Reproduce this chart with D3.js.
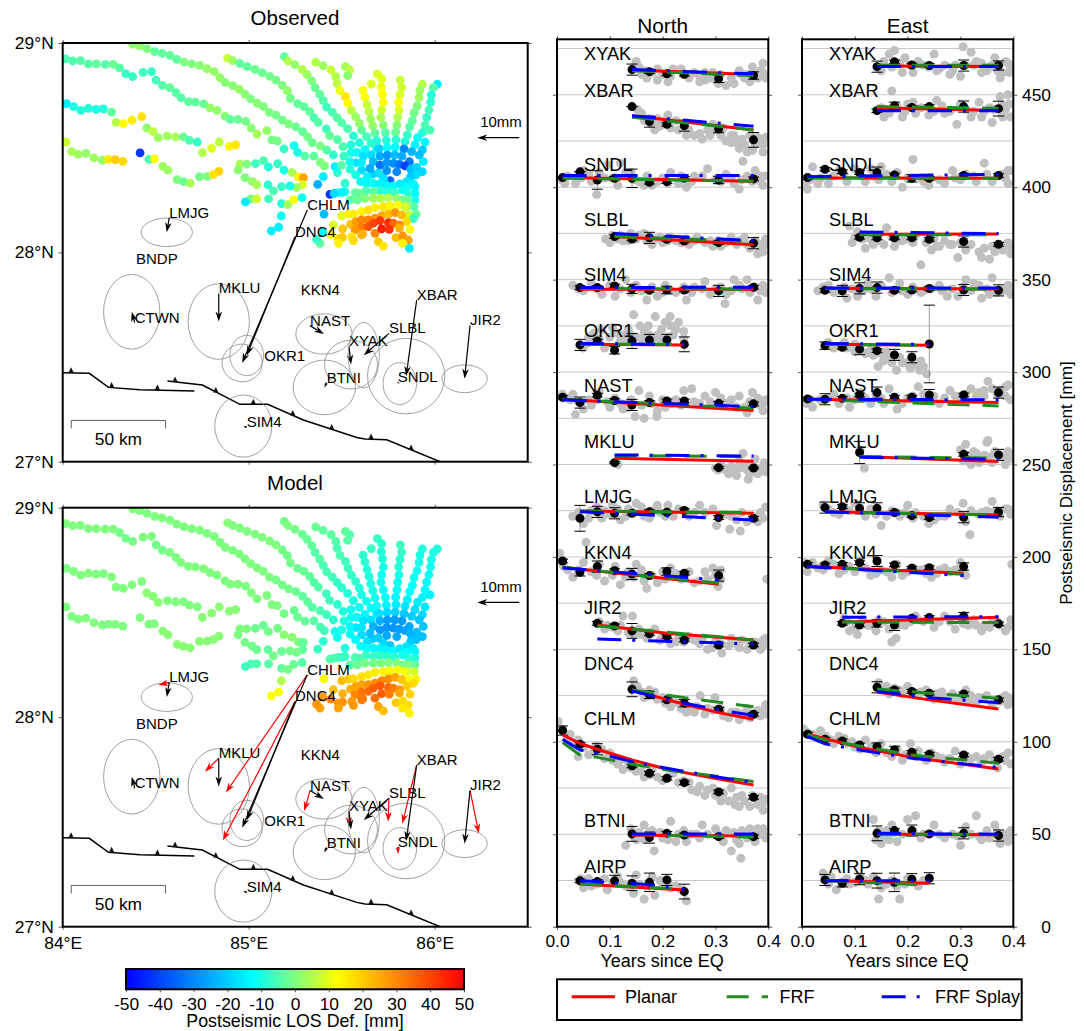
<!DOCTYPE html>
<html>
<head>
<meta charset="utf-8">
<script src="https://cdn.jsdelivr.net/npm/d3@7/dist/d3.min.js"></script>
<style>
  body { margin: 0; background: #fff; }
  text { font-family: "Liberation Sans", Arial, sans-serif; fill: #000; }
</style>
</head>
<body>
<div id="chart"></div>
<script>
// InSAR points: lon, lat, observed LOS, model LOS (mm)
var insar = [
  [84.016,28.924,-5,0],[84.054,28.914,-5,0],[84.095,28.916,-4,0],[84.138,28.900,-4,0],[84.181,28.900,-3,0],[84.229,28.898,-4,0],[84.272,28.898,-2,0],[84.306,28.881,-4,-1],[84.339,28.854,-7,-1],[84.376,28.839,-7,-1],
  [84.376,28.994,2,0],[84.414,28.986,2,0],[84.453,28.973,0,0],[84.495,28.959,-3,0],[84.534,28.951,-3,0],[84.577,28.941,-3,0],[84.613,28.922,-3,0],[84.652,28.909,0,0],[84.694,28.900,0,0],[84.737,28.893,1,0],[84.776,28.877,2,0],[84.815,28.863,2,0],[84.846,28.834,2,0],[84.874,28.811,1,0],[84.914,28.796,1,0],[84.950,28.779,2,0],[84.980,28.756,1,0],[85.011,28.733,0,0],[85.045,28.713,1,0],[85.079,28.696,0,0],[85.111,28.669,0,0],[85.147,28.655,-1,-1],[85.181,28.632,-1,-1],[85.215,28.613,0,-1],[85.254,28.599,-2,-2],[85.290,28.577,-3,-3],[85.317,28.551,-1,-3],[85.342,28.524,-2,-4],[85.385,28.508,0,-5],
  [84.432,28.860,-6,0],[84.478,28.863,-7,0],[84.502,28.823,-6,-1],[84.536,28.798,-4,-1],[84.575,28.787,-3,0],[84.609,28.763,-4,0],[84.636,28.739,-4,0],[84.676,28.720,-3,0],[84.713,28.718,-3,0],[84.758,28.709,-2,0],[84.792,28.690,2,0],[84.830,28.678,2,0],[84.873,28.651,1,0],[84.901,28.635,-3,0],[84.943,28.635,-2,0],[84.984,28.626,-1,0],[85.014,28.594,1,0],[85.045,28.565,4,0],[85.098,28.581,2,0],[85.125,28.537,-1,0],[85.154,28.532,-1,0],[85.190,28.494,-7,-1],[85.244,28.510,-11,-2],[85.263,28.478,-10,-2],[85.303,28.459,-4,-3],[85.351,28.460,-3,-4],[85.385,28.430,0,-5],[85.407,28.413,0,-6],
  [84.887,28.928,7,1],[84.914,28.916,3,0],[84.952,28.903,-3,0],[84.991,28.887,-3,0],[85.034,28.874,-2,0],[85.072,28.858,-2,0],[85.113,28.841,-1,0],[85.147,28.823,-1,0],[85.181,28.798,0,-1],[85.208,28.771,2,-1],[85.224,28.736,-1,-1],[85.263,28.710,-3,-2],[85.297,28.696,-3,-2],[85.328,28.672,-3,-3],[85.351,28.643,-5,-4],[85.374,28.621,-4,-4],[85.417,28.590,-6,-6],[85.435,28.558,-3,-6],[85.477,28.538,-4,-8],[85.507,28.505,-5,-9],[85.550,28.476,-10,-11],
  [85.192,28.935,-3,-1],[85.211,28.914,5,0],[85.249,28.897,2,-1],[85.288,28.874,5,-2],[85.314,28.849,3,-2],[85.339,28.819,0,-3],[85.357,28.787,-2,-4],[85.382,28.755,-3,-4],[85.401,28.725,-4,-5],[85.419,28.694,-6,-5],[85.450,28.669,-5,-6],[85.475,28.643,-4,-7],[85.500,28.618,-4,-8],[85.532,28.591,-5,-9],[85.563,28.556,-8,-10],[85.595,28.524,-9,-11],[85.625,28.491,-12,-13],[85.658,28.465,-18,-17],
  [85.360,28.908,5,-2],[85.400,28.892,3,-3],[85.443,28.871,7,-3],[85.468,28.839,5,-4],[85.475,28.807,6,-5],[85.491,28.772,11,-5],[85.520,28.744,16,-6],[85.534,28.712,13,-6],[85.552,28.678,6,-7],[85.575,28.648,3,-8],[85.595,28.616,2,-9],[85.607,28.584,-3,-10],[85.634,28.553,-6,-11],[85.658,28.521,-8,-12],[85.688,28.492,-14,-15],
  [85.520,28.887,4,-3],[85.543,28.871,6,-4],[85.532,28.844,1,-4],
  [85.659,28.804,9,-7],[85.615,28.774,12,-8],[85.625,28.741,12,-8],[85.636,28.705,7,-9],[85.647,28.672,6,-9],[85.656,28.637,3,-10],[85.667,28.604,2,-10],[85.679,28.569,-3,-11],[85.688,28.532,-9,-12],[85.701,28.495,-19,-17],[85.706,28.460,-25,-24],
  [85.692,28.852,9,-7],[85.715,28.828,10,-8],[85.713,28.790,11,-9],[85.719,28.756,13,-9],[85.724,28.717,13,-10],[85.715,28.680,8,-11],[85.711,28.645,4,-11],[85.724,28.608,1,-12],[85.735,28.572,-4,-12],[85.740,28.535,-9,-14],[85.744,28.500,-12,-18],[85.745,28.464,-28,-27],
  [85.815,28.823,7,-6],[85.822,28.788,8,-7],[85.813,28.753,9,-8],[85.806,28.717,12,-9],[85.808,28.680,9,-10],[85.801,28.645,5,-11],[85.797,28.608,1,-12],[85.790,28.573,-2,-13],[85.792,28.537,-8,-15],[85.788,28.502,-13,-19],[85.785,28.465,-22,-27],
  [85.934,28.803,5,-9],[85.921,28.774,3,-10],[85.916,28.739,3,-10],[85.905,28.699,0,-11],[85.889,28.666,-1,-11],[85.880,28.629,-3,-12],[85.865,28.599,-4,-12],[85.853,28.561,-7,-14],[85.840,28.529,-9,-16],[85.835,28.494,-30,-20],[85.824,28.460,-25,-27],
  [86.014,28.803,-15,-9],[85.993,28.787,-4,-10],[85.982,28.752,-9,-10],[85.978,28.718,-8,-11],[85.969,28.680,-6,-12],[85.957,28.645,-7,-13],[85.948,28.608,-5,-13],[85.975,28.584,-5,-14],[85.934,28.572,-8,-14],[85.908,28.548,-12,-15],[85.948,28.526,-14,-16],[85.894,28.513,-14,-17],[85.934,28.489,-20,-18],[85.876,28.481,-23,-20],[85.917,28.465,-22,-21],[85.939,28.433,-15,-21],[85.864,28.433,-32,-25],
  [85.670,28.433,-22,-24],[85.706,28.417,-33,-27],[85.742,28.428,-28,-28],[85.778,28.425,-29,-28],[85.810,28.420,-33,-27],[85.840,28.413,-40,-26],[85.871,28.397,-22,-24],[85.903,28.406,-19,-22],[85.934,28.385,-18,-22],[85.900,28.370,-17,-22],[85.871,28.362,-20,-20],[85.849,28.338,-16,-17],[85.885,28.327,-14,-15],[85.894,28.314,-14,-14],[85.849,28.311,-12,-13],[85.894,28.282,-13,-9],[85.858,28.282,-9,-8],[85.894,28.250,-10,-3],[85.853,28.250,-2,0],[85.889,28.218,-4,8],[85.849,28.218,2,6],[85.900,28.182,-3,14],[85.860,28.179,8,13],[85.885,28.161,-7,18],
  [85.760,28.343,-35,-20],[85.724,28.354,-16,-18],[85.697,28.378,-17,-20],[85.665,28.374,-19,-20],[85.638,28.362,-14,-17],[85.607,28.393,-18,-18],[85.577,28.428,-16,-16],[85.545,28.397,-9,-13],[85.575,28.370,-10,-13],[85.602,28.338,-13,-12],[85.634,28.330,-13,-12],[85.670,28.330,-12,-13],[85.702,28.327,-14,-14],[85.738,28.322,-14,-14],[85.778,28.317,-12,-13],[85.813,28.327,-15,-15],[85.828,28.298,-11,-11],[85.787,28.285,-7,-8],[85.745,28.290,-9,-8],[85.706,28.295,-8,-8],[85.670,28.290,-3,-7],[85.631,28.295,-5,-7],[85.595,28.282,-2,-5],[85.572,28.285,-3,-5],[85.670,28.258,3,-1],[85.710,28.258,5,0],[85.751,28.261,5,0],[85.796,28.258,2,0],[85.824,28.250,-1,-1],[85.625,28.258,0,-1],[85.584,28.250,-2,-2],[85.545,28.250,-3,-3],[85.518,28.290,-9,-7],[85.483,28.285,-11,-7],[85.518,28.330,-8,-9],[85.477,28.381,-8,-11],[85.464,28.409,-14,-11],[85.500,28.417,-4,-10],[85.455,28.465,-8,-8],[85.401,28.362,-15,-8],[85.371,28.325,-24,-7],[85.437,28.277,-42,-4],[85.459,28.282,-18,-5],[85.505,28.287,-14,-7],[85.405,28.183,-22,12],
  [85.550,28.513,-9,-11],[85.581,28.478,-12,-13],[85.616,28.460,-17,-17],[85.512,28.460,-7,-10],[85.545,28.433,-11,-13],[85.607,28.428,-15,-16],[85.652,28.401,-25,-22],[85.742,28.390,-28,-25],[85.796,28.385,-30,-25],[85.419,28.489,-4,-6],
  [85.500,28.174,10,22],[85.536,28.182,14,20],[85.563,28.183,15,18],[85.607,28.194,14,17],[85.643,28.202,17,16],[85.679,28.214,15,15],[85.724,28.218,16,14],[85.760,28.222,14,13],[85.804,28.226,12,13],[85.840,28.218,8,12],[85.455,28.131,9,22],[85.505,28.112,21,24],[85.548,28.134,22,25],[85.577,28.147,27,26],[85.607,28.155,30,26],[85.643,28.155,31,28],[85.679,28.163,28,29],[85.715,28.175,25,30],[85.751,28.183,22,29],[85.787,28.190,28,26],[85.822,28.179,22,21],[85.849,28.147,18,20],[85.607,28.120,32,33],[85.643,28.123,38,34],[85.670,28.139,40,36],[85.706,28.151,42,37],[85.751,28.142,44,35],[85.778,28.139,35,32],[85.810,28.131,30,28],[85.572,28.107,28,30],[85.607,28.083,24,31],[85.679,28.091,30,34],[85.715,28.112,46,36],[85.756,28.110,43,32],[85.810,28.116,24,26],[85.867,28.110,13,19],[85.441,28.086,14,30],[85.482,28.067,18,28],[85.505,28.072,20,28],[85.554,28.075,16,27],[85.563,28.056,18,28],[85.613,28.088,24,32],[85.697,28.051,20,26],[85.792,28.070,22,20],[85.828,28.078,28,18],[85.858,28.059,26,17],[85.383,28.043,-3,26],[85.365,28.062,-7,28],[85.398,28.096,-13,27],[85.482,28.043,14,26],[85.724,28.030,16,22],[85.828,28.043,14,16],[85.864,28.019,-15,14],
  [84.020,28.710,-15,0],[84.059,28.696,-10,0],[84.097,28.678,-9,0],[84.138,28.688,-9,0],[84.179,28.683,-10,0],[84.219,28.685,-9,0],[84.263,28.670,-3,0],[84.287,28.621,5,0],[84.326,28.615,13,0],[84.373,28.632,15,0],[84.425,28.648,17,0],
  [84.452,28.594,2,1],[84.486,28.577,6,1],[84.513,28.548,3,1],[84.563,28.556,3,0],[84.607,28.551,4,0],[84.649,28.551,-2,0],[84.681,28.535,-5,0],[84.724,28.527,-7,0],[84.751,28.476,5,1],[84.801,28.497,9,1],[84.842,28.527,6,1],[84.896,28.506,14,1],[84.930,28.513,16,1],
  [84.018,28.527,7,0],[84.048,28.481,4,0],[84.084,28.468,3,0],[84.125,28.473,2,0],[84.168,28.451,3,0],[84.213,28.440,2,0],[84.247,28.444,16,0],[84.283,28.443,20,0],[84.324,28.435,18,0],[84.416,28.475,-42,0],[84.464,28.444,-5,0],[84.493,28.446,13,0],[84.539,28.411,3,1],[84.566,28.393,3,1],[84.615,28.347,0,1],[84.649,28.338,-2,1],[84.685,28.331,4,1],[84.735,28.362,-1,1],[84.776,28.363,0,1],[84.810,28.371,16,1],[84.840,28.387,19,1],
  [84.953,28.422,4,0],[84.989,28.421,0,0],[84.943,28.393,1,0],[85.036,28.424,-6,-2],[85.080,28.438,-5,-2],[85.106,28.408,-9,-1],[85.156,28.424,-7,-1],[85.190,28.393,-10,1],[85.233,28.382,4,1],[85.267,28.360,14,0],[85.294,28.357,26,-3],[85.290,28.323,9,-3],[85.258,28.309,3,-1],[85.222,28.317,-10,-1],[85.177,28.314,-7,-2],[85.104,28.322,-8,-3],[85.133,28.293,-5,-1],[84.980,28.357,0,-1],[85.019,28.339,2,-1],[85.043,28.323,4,-2],[85.011,28.255,0,-5],[85.043,28.255,8,-5],[84.982,28.241,-15,-6],[85.107,28.255,-6,-4],[85.177,28.233,-9,-3],[85.210,28.228,3,-1],[85.242,28.252,12,-2],[85.287,28.261,-11,-4],[85.175,28.174,-11,5],[85.122,28.102,-15,12],[85.161,28.120,-15,12]
];

// GPS stations on the maps
var mapNames = ["LMJG","BNDP","CTWN","MKLU","CHLM","DNC4","OKR1","KKN4","NAST","XYAK","BTNI","SLBL","XBAR","SNDL","JIR2","SIM4"];
var mapLon = [84.573,84.394,84.387,84.839,85.315,85.249,85.084,85.280,85.330,85.539,85.419,85.754,85.903,85.801,86.190,84.989];
var mapLat = [28.166,27.943,27.664,27.804,28.202,28.075,27.481,27.796,27.650,27.552,27.377,27.613,27.772,27.379,27.651,27.164];
var obsE = [-0.6,0,-0.7,0,-15.5,-11.5,0,0,3.3,0.5,-0.55,-6,-2.5,0.5,-1.3,-0.8];
var obsN = [-3.5,0,2.6,-6.7,-36.4,-28.3,0,0,-2,-4.4,-1.1,-5.2,-18.1,-0.3,-12.7,0.3];
var modE = [-2.6,0,-0.5,-3.3,-19.4,-17.2,0,0,-1.4,0,-0.4,-0.2,-3.4,0.15,2.1,-0.3];
var modN = [-0.6,0,-0.2,-3.2,-28,-33.1,0,0,-4.9,-3.8,-1,-5.6,-14,-1.6,-10.3,0.1];
var ellRx = [6.1,0,6.7,7.3,4.8,4,0,0,6.7,6.3,7.4,3.7,9.2,4,5.4,6.8];
var ellRy = [3.4,0,8.9,9,4.5,4.8,0,0,4.8,5.8,6.5,7.8,9,5,3.3,7.4];

// Thrust fault traces and teeth
var fault1 = [[84.000,27.425],[84.143,27.422],[84.246,27.355],[84.416,27.344],[84.708,27.338]];
var fault2 = [[84.563,27.385],[84.751,27.366],[84.953,27.274],[85.102,27.274],[85.294,27.199],[85.581,27.116],[85.625,27.108],[85.742,27.105],[86.029,27.000]];
var faultTeeth = [[84.045,27.425],[84.263,27.355],[84.509,27.342],[84.604,27.381],[84.823,27.330],[85.025,27.274],[85.237,27.221],[85.446,27.154],[85.658,27.108],[85.873,27.056]];
var scaleBarLon = [84.046,84.553];
var scaleBarLat = 27.197;

// Time series
var stations = ["XYAK","XBAR","SNDL","SLBL","SIM4","OKR1","NAST","MKLU","LMJG","KKN4","JIR2","DNC4","CHLM","BTNI","AIRP"];
var labelMm = [469,449,409,379,349,319,289,259,229,199,169,139,109,54,29];
var epochs = [0.0106,0.0435,0.0763,0.109,0.142,0.175,0.208,0.241,0.306,0.372];

// epoch index, mm, error
var northDots = [
  [[4,463.6,3],[5,462.5,1],[6,461.3,1],[7,461.1,1],[8,458.6,2],[9,460.4,2]],
  [[4,443.6,0],[5,435.5,3],[6,434,1],[7,433.3,3],[8,431.5,2],[9,425.6,4]],
  [[0,405.2,0],[1,408.3,0],[2,403.9,5],[3,404.8,1],[4,404.8,5],[5,402.7,1],[6,403,1],[7,404.8,1],[8,403.9,2],[9,404.5,1]],
  [[3,373.3,1],[4,372,1],[5,372.6,3],[6,371.8,1],[7,370.9,1],[8,370,1],[9,369.7,3]],
  [[1,345.7,1],[2,345.7,1],[3,346.6,1],[4,345,2.5],[5,344.2,1],[6,344.4,2],[7,344.4,1],[8,343.9,3],[9,345.9,1]],
  [[1,314.7,3],[2,316.8,1],[3,311.8,2],[4,316.8,4],[5,317.4,3],[6,317.4,3],[7,315,4]],
  [[0,286.4,1],[1,283.5,3],[2,287.5,1],[3,284.6,1],[4,282.2,3],[5,283.5,1],[6,284.4,1],[7,284.4,1],[8,283.1,1],[9,282.8,1]],
  [[3,251,0.5],[8,248.3,0.5],[9,248.1,0.5]],
  [[1,220.9,7],[2,224.4,3],[3,223.6,3],[4,223.6,1],[5,224.5,1],[6,224.2,1],[7,225.1,1],[8,221.3,1],[9,220.9,1]],
  [[0,197.8,1],[1,191.7,2],[2,194.8,3],[3,192.6,1],[4,190.8,3],[5,189.9,1],[6,192.1,2],[7,191.2,1],[8,189.9,3]],
  [[2,164.1,1],[3,162.7,1],[4,160,4],[5,158.4,1],[6,156.9,1],[7,155.1,1],[8,152.4,1],[9,152.4,1]],
  [[4,128.4,4],[5,125.4,2],[6,122.7,1],[7,120.9,2],[8,117.6,1],[9,114.9,1]],
  [[0,106.1,2.5],[1,98.7,1],[2,96,3],[4,87,1],[5,83,1],[6,80.3,1],[7,77.9,1],[8,72.9,1],[9,70,1]],
  [[4,50.2,4],[5,48.2,3],[6,50.5,1],[7,49.6,1],[8,48.7,1],[9,48.7,1]],
  [[1,24.8,1],[2,24.4,1],[3,24.8,3],[4,23.5,4],[5,24,5],[6,25.3,3],[7,19,4]]
];
var eastDots = [
  [[4,465.2,3],[5,467.8,1],[6,466.1,1],[7,465.8,1],[8,465.8,3],[9,465.8,2.5]],
  [[4,441.4,1],[5,444,2],[6,443.1,1],[7,443.6,1],[8,443.6,3],[9,442.5,4]],
  [[0,405.2,1],[1,409.7,1],[2,408.4,1],[3,407.9,1],[4,407.9,3],[5,406.6,1],[6,404.8,2],[7,404.8,1],[8,406.3,1],[9,406.3,1]],
  [[3,372.9,1],[4,372.6,1],[5,372.6,1],[6,372.6,1],[7,371.8,1],[8,370.6,3],[9,369.1,1]],
  [[1,344.2,1],[2,343.9,3],[3,345.3,3],[4,345.7,3],[5,344.2,1],[6,344.4,1],[7,345.2,1],[8,344.4,3],[9,344.2,3]],
  [[1,314.3,2],[2,313.4,1],[3,312.4,3],[4,311.6,1],[5,309.3,3],[6,308,3],[7,315.2,21]],
  [[0,285.5,1],[1,285.3,3],[2,285.8,1],[3,287.6,1],[4,288.9,3],[5,286.4,1],[6,286.4,1],[7,287.6,3],[8,287.6,1],[9,288.9,3]],
  [[3,256.5,6],[8,255.5,1],[9,255.2,3]],
  [[1,226.7,3],[2,227.2,1],[3,226.3,3],[4,226.3,3],[5,224,1],[6,222.4,1],[7,221.3,1],[8,221.5,3],[9,224.3,2.5]],
  [[0,196,1],[1,195.7,1],[2,196,1],[3,196.9,1],[4,197.8,3],[5,195.7,1],[6,193.9,1],[7,194.2,1],[8,194.8,2]],
  [[2,164.1,1],[3,163.2,1],[4,164.1,2],[5,163.2,3],[6,166.8,1],[7,167.2,1],[8,168,2],[9,163.8,1]],
  [[4,129.5,3],[5,128.1,1],[6,127.2,1],[7,126.3,1],[8,125.9,1],[9,122.7,1]],
  [[0,104.1,1],[1,101.4,1],[2,100.5,1],[3,98.3,1],[4,97.4,2],[5,95.6,2],[6,94.4,1],[7,93.3,1],[8,92.9,1],[9,90.6,1]],
  [[4,50.5,4],[5,52,1],[6,52,3],[7,50.2,1],[8,50.5,3],[9,49.3,3]],
  [[1,25.3,3],[2,23.5,2],[3,25.7,3],[4,24.9,4],[5,24,5],[6,25.7,3],[7,26.2,3]]
];

// model lines: t, mm, t, mm ...
var northPlanar = [
  [.142,463.4,.372,461],[.142,438.6,.372,431],[.0106,405.2,.372,403.2],[.109,373.3,.372,368.9],[.0435,344.8,.372,344.8],[.0435,315,.241,314.7],[.0106,285.3,.372,279.2],[.109,253.4,.372,251.8],[.0435,224.9,.372,223.6],[.0106,194.4,.306,185.2],[.0763,163.2,.208,158.7,.372,155.1],
  [.142,128.2,.175,125.4,.241,120.3,.306,115.8,.372,112.2],[.0106,103.7,.0435,99.2,.0763,96,.142,90.2,.208,85.2,.306,79.9,.372,76.7],[.142,49.5,.372,49],[.0435,23.1,.241,19.9]
];
var northFrf = [
  [.142,463,.372,460.3],[.142,437.8,.372,431],[.0106,404.9,.372,403.2],[.109,373.3,.372,370.6],[.0435,345.3,.372,344.8],[.0435,315,.241,315],[.0106,285.3,.372,280.4],[.109,254.8,.372,254.3],[.0435,224.9,.372,224],[.0106,194.4,.306,185.8],[.0763,162.7,.372,155.1],
  [.142,128.1,.241,123.9,.306,121.4,.372,119],[.0106,99.6,.0435,92.9,.0763,91.6,.142,87.9,.208,84.8,.306,81.2,.372,78.5],[.142,49.8,.372,48.4],[.0435,23.1,.241,20.2]
];
var northSplay = [
  [.142,463.6,.372,461.3],[.142,438.7,.372,433],[.0106,406.3,.372,406.3],[.109,375,.372,371.1],[.0435,345.7,.372,345.9],[.0435,315.4,.241,315],[.0106,285,.372,281.3],[.109,255.2,.372,254.6],[.0435,224.5,.372,220],[.0106,194,.306,187.6],[.0763,155.6,.372,152.9],
  [.142,127.5,.241,120.9,.306,117.3,.372,114.2],[.0106,101.4,.0435,95.6,.0763,93.8,.142,89.3,.208,85.7,.306,80.8,.372,78],[.142,50.2,.372,50.2],[.0435,24.9,.185,22.6,.241,20]
];
var eastPlanar = [
  [.142,465.5,.372,465.3],[.142,443,.372,441.5],[.0106,405,.372,404.8],[.109,374.5,.372,374.7],[.0435,345.3,.372,345],[.0435,315,.241,314.5],[.0106,285.3,.372,283.5],[.109,254.3,.372,251.6],[.0435,224.5,.372,222.7],[.0106,194.8,.306,191.2],[.0763,164.8,.372,167.4],
  [.142,127,.241,122.7,.372,117.8],[.0106,104.1,.109,97,.208,91.6,.372,85.3],[.142,50,.372,49.8],[.0435,25,.241,23.5]
];
var eastFrf = [
  [.142,466,.372,466],[.142,443.6,.372,442.7],[.0106,405.2,.372,404.8],[.109,374.3,.372,374.3],[.0435,345.2,.372,344.8],[.0435,315,.241,314.5],[.0106,285.3,.372,281.7],[.109,254.3,.372,253.4],[.0435,224.2,.372,222.7],[.0106,194.8,.306,190.6],[.0763,164.8,.372,164.5],
  [.142,128.6,.241,126.3,.372,123.6],[.0106,103.7,.0435,101,.109,97.8,.208,92.9,.372,88.4],[.142,50.2,.372,49.8],[.0435,24.9,.241,22.6]
];
var eastSplay = [
  [.142,465.3,.372,465.3],[.142,441.4,.372,441.4],[.0106,405.7,.372,407],[.109,375.8,.372,374.9],[.0435,345.5,.372,345.5],[.0435,315.4,.241,315],[.0106,285.3,.372,285],[.109,253.9,.372,252.8],[.0435,224.5,.372,221.5],[.0106,194.8,.306,189.9],[.0763,167.4,.372,167.7],
  [.142,127.2,.241,123.9,.372,121.2],[.0106,102.8,.0435,98.9,.109,95.6,.208,91.1,.372,86.1],[.142,50.5,.372,50],[.0435,24.9,.241,24.9]
];

// daily positions: t, mm, t, mm ...
var northGray = [
  [.15,468,.16,461,.17,459,.19,458,.19,464,.21,457,.22,464,.235,464,.25,459,.27,460,.28,458,.28,462,.295,462,.305,456,.31,461,.32,455,.33,459,.345,463,.355,459,.36,461,.37,465,.385,463,.395,459,.39,467,.145,464,.155,465,.165,463,.18,462,.2,461,.215,460,.24,461,.26,462,.27,457,.29,459,.3,459,.335,456,.35,461,.365,457,.38,459,.39,462],
  [.152,442,.16,440,.175,437,.185,431,.19,437,.205,436,.215,432,.225,436,.24,433,.25,431,.26,428,.27,429,.285,431,.295,434,.31,428,.32,425,.33,424,.335,428,.345,421,.35,426,.36,419,.365,428,.375,423,.385,424,.39,419,.395,427,.352,414,.165,436,.18,434,.195,433,.21,439,.23,431,.245,428,.275,426,.29,428,.3,431,.315,432,.33,428,.34,424,.355,423,.37,420,.38,427,.39,423],
  [.008,404,.02,406,.035,402,.05,409,.065,403,.075,396,.08,408,.095,412,.105,405,.12,413,.13,408,.145,404,.155,403,.17,406,.18,401,.2,405,.215,408,.23,402,.245,400,.26,406,.285,410,.3,404,.32,407,.335,402,.345,399,.36,406,.375,409,.385,403,.395,406,.39,401,.015,402,.045,405,.06,407,.09,405,.115,401,.14,408,.165,401,.19,403,.21,402,.235,406,.255,403,.275,406,.31,403,.33,405,.35,404,.37,403,.385,406],
  [.092,372,.105,374,.115,372,.125,371,.14,375,.155,374,.17,371,.185,372,.2,370,.215,373,.235,370,.25,369,.265,373,.28,370,.295,368,.31,368,.33,373,.34,369,.355,373,.365,367,.375,371,.385,366,.395,369,.39,365,.38,364,.1,370,.12,374,.135,371,.15,372,.165,375,.18,369,.195,373,.21,371,.225,371,.245,372,.26,371,.29,371,.305,371,.32,370,.345,371,.36,369,.37,369,.385,369,.395,372],
  [.03,347,.05,344,.065,348,.085,342,.11,341,.13,350,.15,347,.17,339,.19,341,.205,347,.225,343,.245,339,.26,346,.28,349,.3,345,.32,342,.318,337,.335,350,.35,345,.36,350,.38,339,.39,347,.395,343,.04,345,.075,345,.1,347,.12,345,.14,343,.16,344,.18,346,.2,343,.215,344,.24,346,.255,343,.275,345,.29,342,.31,346,.33,344,.345,347,.365,343,.375,346,.385,344],
  [.145,331,.214,330,.23,327,.186,330,.157,325,.135,323,.173,325,.198,323,.165,322,.19,320,.22,320,.1,319,.08,318,.12,317,.06,316,.05,313,.09,313,.15,319,.205,327,.24,322,.175,320,.125,320,.21,319,.06,319,.07,321,.085,323,.105,324,.115,321,.14,320,.16,318,.18,317,.195,318,.215,325,.225,323,.24,318,.13,318],
  [.01,288,.025,285,.04,284,.05,280,.035,277,.065,282,.08,289,.095,284,.11,286,.125,280,.14,285,.155,290,.148,276,.165,275,.18,283,.19,279,.189,276,.2,285,.215,283,.24,290,.255,291,.27,283,.3,289,.32,283,.345,287,.355,281,.37,289,.385,282,.395,285,.39,279,.36,278,.015,286,.03,288,.045,283,.06,285,.075,285,.1,281,.12,283,.135,281,.16,282,.175,287,.205,281,.225,285,.235,282,.26,284,.28,287,.29,284,.31,286,.33,285,.34,281,.365,284,.38,286,.39,283],
  [.115,250,.3,248,.31,250,.32,247,.33,249,.34,244,.345,252,.352,256,.36,247,.362,242,.37,250,.38,245,.39,249,.395,246,.375,253,.305,247,.315,248,.325,245,.335,247,.345,248,.355,250,.365,245,.375,248,.385,247,.392,251],
  [.03,222,.05,218,.06,221,.075,227,.09,225,.105,228,.12,220,.135,226,.15,229,.165,222,.18,225,.195,224,.21,228,.23,226,.25,222,.27,228,.295,226,.302,217,.32,223,.327,215,.347,214,.35,224,.385,224,.395,227,.39,221,.04,224,.065,225,.085,221,.1,223,.115,226,.13,222,.145,224,.16,227,.175,221,.19,228,.205,222,.22,222,.24,225,.26,224,.28,224,.31,223,.33,222,.34,220,.36,219,.37,222,.38,219],
  [.005,202,.012,195,.03,189,.05,197,.055,208,.08,196,.09,187,.105,190,.12,185,.135,192,.15,196,.165,187,.17,183,.19,186,.2,192,.215,194,.235,188,.26,186,.28,192,.295,194,.305,184,.31,188,.397,188,.02,193,.04,193,.065,192,.075,190,.11,195,.13,189,.145,189,.16,193,.18,190,.205,188,.225,191,.25,192,.27,187,.285,188,.3,190,.31,193],
  [.08,165,.095,163,.115,160,.125,168,.135,159,.143,168,.155,161,.17,156,.185,161,.2,157,.215,153,.23,156,.25,157,.27,153,.285,150,.3,154,.312,148,.33,156,.345,151,.36,150,.375,154,.385,150,.395,156,.39,152,.09,161,.105,162,.12,163,.145,158,.16,158,.175,159,.195,155,.21,156,.225,154,.24,154,.26,155,.275,156,.295,151,.31,153,.325,152,.34,153,.35,155,.365,153,.38,153,.39,155],
  [.145,133,.152,130,.165,124,.175,128,.185,127,.2,124,.215,119,.23,121,.245,116,.265,119,.271,125,.285,118,.299,124,.315,114,.33,116,.345,112,.36,118,.375,115,.385,114,.395,120,.39,117,.16,127,.17,125,.19,123,.205,121,.22,122,.235,118,.25,119,.26,116,.28,115,.295,117,.31,118,.325,113,.34,116,.35,115,.365,113,.38,117,.395,115],
  [.002,111,.01,107,.025,104,.04,101,.05,97,.04,92,.07,95,.075,98,.09,91,.1,94,.115,88,.125,85,.135,89,.15,84,.165,81,.18,85,.2,79,.22,83,.24,79,.255,74,.27,76,.285,74,.3,71,.315,72,.33,75,.337,66,.345,65,.355,68,.37,71,.38,66,.39,63,.395,69,.02,101,.03,99,.06,93,.085,96,.105,90,.12,90,.14,86,.16,84,.175,82,.19,81,.21,81,.23,78,.25,78,.265,73,.28,71,.295,75,.31,68,.325,68,.34,70,.35,71,.365,65,.385,70,.39,67],
  [.13,44,.14,53,.15,47,.165,55,.175,51,.184,41,.2,48,.215,57,.23,50,.245,46,.265,50,.275,55,.3,53,.315,46,.33,41,.34,47,.35,52,.348,37,.365,53,.375,46,.385,50,.395,48,.39,53,.145,49,.155,51,.165,47,.18,52,.195,51,.21,47,.225,46,.24,52,.255,50,.27,48,.285,50,.305,50,.32,52,.335,51,.345,45,.36,48,.37,50,.38,53,.39,50],
  [.045,26,.05,21,.065,22,.08,24,.095,20,.115,27,.13,22,.145,18,.15,28,.165,15,.18,27,.185,17,.2,22,.215,21,.235,20,.245,14,.05,25,.06,26,.075,23,.09,26,.105,24,.12,24,.14,22,.155,23,.17,22,.195,25,.21,24,.225,22]
];
var eastGray = [
  [.15,463,.165,472,.175,474,.19,462,.195,470,.21,462,.23,466,.25,472,.26,464,.28,461,.29,466,.3,460,.305,476,.32,473,.33,468,.34,462,.355,465,.365,470,.375,459,.38,462,.39,467,.395,464,.155,468,.17,465,.185,467,.205,466,.22,468,.24,465,.255,463,.27,466,.285,463,.31,466,.325,466,.34,467,.35,463,.36,466,.37,463,.385,468,.392,462],
  [.15,443,.165,440,.17,452,.19,438,.2,445,.215,440,.24,439,.255,447,.27,440,.293,434,.3,445,.32,438,.335,446,.345,441,.36,435,.375,449,.38,444,.385,442,.395,438,.39,450,.155,438,.18,444,.195,441,.21,446,.225,443,.25,441,.265,444,.28,441,.31,442,.325,441,.34,438,.355,443,.365,442,.38,438,.392,445],
  [.005,402,.01,399,.02,411,.035,405,.05,402,.07,409,.085,403,.1,410,.12,403,.135,406,.15,411,.17,403,.19,400,.21,415,.225,405,.24,401,.27,402,.285,409,.3,404,.325,406,.345,413,.36,403,.38,407,.39,402,.395,409,.015,404,.03,402,.06,406,.08,407,.11,406,.13,410,.145,404,.16,407,.18,408,.2,405,.23,403,.26,404,.29,405,.31,407,.33,403,.35,407,.37,406,.385,405,.39,409],
  [.09,379,.105,376,.095,370,.12,367,.135,369,.16,378,.175,368,.19,371,.215,374,.225,358,.245,366,.25,372,.26,368,.28,369,.295,362,.31,366,.335,365,.34,362,.355,361,.365,365,.38,366,.39,370,.395,364,.1,373,.115,372,.13,372,.145,371,.155,369,.17,373,.18,371,.2,372,.21,370,.235,370,.255,368,.27,371,.285,369,.3,370,.32,369,.345,367,.36,368,.375,367,.385,369,.395,368],
  [.03,344,.05,347,.07,344,.085,340,.105,341,.125,348,.14,341,.165,351,.185,348,.2,342,.23,344,.26,347,.275,341,.295,341,.31,350,.325,348,.34,340,.355,342,.36,351,.38,344,.39,347,.395,342,.04,346,.06,343,.08,346,.095,345,.115,344,.13,345,.15,347,.17,343,.19,344,.21,346,.225,343,.245,345,.265,344,.285,345,.305,346,.32,344,.335,347,.35,345,.37,343,.39,344],
  [.05,316,.07,314,.085,313,.1,311,.12,310,.135,309,.144,303,.154,306,.165,308,.179,301,.19,305,.198,305,.205,302,.217,304,.223,301,.236,299,.06,313,.08,316,.1,315,.11,313,.13,312,.15,310,.16,311,.17,305,.185,308,.21,306,.225,306,.23,303],
  [.008,283,.02,281,.05,286,.07,283,.09,281,.11,289,.13,283,.15,286,.165,291,.18,280,.2,286,.22,292,.24,285,.26,283,.28,290,.3,286,.32,291,.335,289,.345,287,.352,295,.37,288,.385,292,.395,285,.39,293,.015,285,.035,285,.06,288,.085,286,.1,285,.12,286,.14,288,.155,283,.175,285,.19,283,.21,287,.23,288,.25,287,.27,286,.29,287,.31,288,.33,287,.345,290,.36,291,.375,290,.385,287],
  [.11,258,.118,248,.3,258,.31,254,.31,261,.32,250,.33,256,.34,253,.35,262,.352,263,.36,251,.375,255,.385,250,.39,257,.395,253,.305,252,.315,255,.325,257,.335,251,.345,255,.355,254,.365,257,.38,254,.392,256],
  [.04,228,.06,224,.08,226,.1,229,.12,222,.14,223,.15,217,.17,225,.185,222,.2,228,.215,224,.24,218,.26,222,.28,226,.305,229,.31,219,.318,212,.335,223,.35,225,.36,230,.375,222,.385,226,.395,223,.05,226,.07,223,.09,225,.11,225,.13,226,.16,222,.18,224,.195,224,.21,221,.23,222,.25,220,.27,222,.295,224,.32,225,.34,224,.36,224,.37,225,.39,226],
  [.005,197,.01,192,.03,194,.05,198,.07,191,.09,195,.11,198,.13,190,.15,193,.17,189,.18,196,.2,192,.225,193,.245,189,.26,193,.28,192,.3,197,.31,190,.397,196,.02,197,.04,193,.06,196,.08,193,.1,192,.12,194,.14,191,.16,192,.19,190,.21,194,.235,191,.255,191,.27,194,.29,193,.305,193],
  [.08,167,.09,160,.105,158,.125,163,.14,160,.155,165,.17,154,.178,156,.195,163,.215,168,.23,165,.25,162,.27,168,.29,161,.305,164,.325,166,.34,160,.355,162,.37,165,.385,160,.395,166,.085,165,.1,162,.115,166,.13,163,.145,166,.165,161,.185,163,.205,165,.22,166,.24,167,.26,165,.28,165,.3,166,.315,163,.33,163,.345,163,.36,165,.375,163,.39,162],
  [.145,132,.16,130,.175,129,.19,126,.2,130,.22,125,.235,128,.25,123,.265,127,.28,124,.295,122,.31,128,.32,125,.33,121,.345,124,.36,120,.375,122,.385,125,.395,121,.39,124,.15,128,.165,126,.185,128,.21,126,.225,127,.24,125,.255,126,.27,124,.285,126,.305,123,.315,122,.335,124,.35,125,.365,122,.38,124,.39,120],
  [.003,107,.02,104,.035,106,.055,101,.07,103,.085,99,.1,97,.12,101,.14,94,.15,99,.17,92,.19,90,.205,99,.22,95,.235,90,.255,92,.27,89,.29,95,.3,88,.32,91,.34,89,.355,93,.37,86,.38,92,.395,88,.39,94,.01,105,.03,102,.045,103,.06,99,.08,102,.095,100,.11,96,.13,97,.16,94,.18,96,.195,93,.215,92,.245,94,.265,91,.28,91,.31,92,.33,92,.345,91,.365,90,.385,90],
  [.135,58,.14,47,.15,45,.16,52,.17,55,.18,46,.2,58,.215,60,.23,50,.25,55,.27,48,.3,44,.31,54,.33,60,.34,47,.35,52,.365,55,.375,45,.385,50,.395,52,.39,46,.145,52,.155,49,.165,47,.175,51,.19,50,.21,52,.225,48,.24,50,.26,50,.285,50,.295,49,.32,50,.335,49,.355,48,.37,51,.385,47,.392,49],
  [.04,29,.05,23,.065,20,.085,26,.1,24,.12,25,.135,27,.15,21,.145,15,.17,25,.18,22,.185,15,.2,26,.22,22,.045,26,.055,27,.075,24,.09,23,.11,27,.125,23,.14,25,.16,23,.175,23,.195,23,.21,24,.23,25]
];

var gridMm = d3.range(25, 480, 25);
var colorTicks = d3.range(-50, 51, 10);
var legendNames = ["Planar", "FRF", "FRF Splay"];
var seriesColors = ["#ff0000", "#228b22", "#0000ff"];
var seriesDash = [null, "22 13", "24 11 3 13"];

var svg = d3.select("#chart").append("svg")
    .attr("width", 1086)
    .attr("height", 1031)
    .style("display", "block");

var defs = svg.append("defs");

var color = d3.scaleLinear()
    .domain([-50, -12.5, 12.5, 50])
    .range(["#0000ff", "#00ffff", "#ffff00", "#ff0000"]);

// 10 mm reference arrow is 42 px long
var mmToPx = d3.scaleLinear().domain([0, 10]).range([0, 42]);

function pairUp(flat) {
    return d3.range(0, flat.length, 2).map(function (i) { return [flat[i], flat[i + 1]]; });
}

function styleAxis(g, size) {
    g.select(".domain").remove();
    g.selectAll("line").attr("stroke", "#333").attr("stroke-width", 0.8);
    g.selectAll("text").style("font-size", (size || 17.4) + "px");
}

function drawArrow(g, x0, y0, x1, y1, col) {
    var len = Math.hypot(x1 - x0, y1 - y0);
    if (len < 0.5) return;
    var a = Math.atan2(y1 - y0, x1 - x0);
    var h = Math.min(10, len);
    var w = h * 0.33;
    function pt(back, side) {
        return [x1 - back * Math.cos(a) - side * Math.sin(a), y1 - back * Math.sin(a) + side * Math.cos(a)];
    }
    g.append("line")
        .attr("x1", x0).attr("y1", y0)
        .attr("x2", pt(h * 0.7, 0)[0]).attr("y2", pt(h * 0.7, 0)[1])
        .attr("stroke", col).attr("stroke-width", 1.2);
    g.append("path")
        .attr("d", d3.line()([pt(0, 0), pt(h, w), pt(h * 0.7, 0), pt(h, -w)]) + "Z")
        .attr("fill", col);
}

function drawMap(clipId, top, bottom, valueIdx, showRed, title, titleY) {
    var x = d3.scaleLinear().domain([84, 86.5]).range([62.7, 527.7]);
    var y = d3.scaleLinear().domain([27, 29]).range([bottom, top]);
    var g = svg.append("g");

    defs.append("clipPath").attr("id", clipId).append("rect")
        .attr("x", x(84)).attr("y", top).attr("width", x(86.5) - x(84)).attr("height", bottom - top);

    // axes
    var lonTicks = [84, 85, 86];
    var latTicks = [27, 28, 29];
    g.append("g").attr("transform", "translate(0," + bottom + ")")
        .call(d3.axisBottom(x).tickValues(lonTicks).tickSize(3).tickPadding(7)
            .tickFormat(function (d) { return valueIdx === 3 ? d + "°E" : ""; }))
        .call(styleAxis);
    g.append("g").attr("transform", "translate(0," + top + ")")
        .call(d3.axisTop(x).tickValues(lonTicks).tickSize(3).tickFormat(""))
        .call(styleAxis);
    g.append("g").attr("transform", "translate(" + x(84) + ",0)")
        .call(d3.axisLeft(y).tickValues(latTicks).tickSize(4).tickPadding(5)
            .tickFormat(function (d) { return d + "°N"; }))
        .call(styleAxis);
    g.append("g").attr("transform", "translate(" + x(86.5) + ",0)")
        .call(d3.axisRight(y).tickValues(latTicks).tickSize(4).tickFormat(""))
        .call(styleAxis);

    var plot = g.append("g").attr("clip-path", "url(#" + clipId + ")");

    // InSAR points
    plot.selectAll("circle")
        .data(insar)
        .enter()
        .append("circle")
        .attr("cx", function (d) { return x(d[0]); })
        .attr("cy", function (d) { return y(d[1]); })
        .attr("r", 4.4)
        .attr("fill", function (d) { return color(d[valueIdx]); });

    // faults
    var faultLine = d3.line()
        .x(function (d) { return x(d[0]); })
        .y(function (d) { return y(d[1]); });
    [fault1, fault2].forEach(function (f) {
        plot.append("path").attr("d", faultLine(f))
            .attr("fill", "none").attr("stroke", "#000").attr("stroke-width", 1.5);
    });
    plot.selectAll(".tooth")
        .data(faultTeeth)
        .enter()
        .append("path")
        .attr("class", "tooth")
        .attr("d", function (d) {
            var px = x(d[0]), py = y(d[1]);
            return "M" + (px - 2.6) + "," + py + "L" + px + "," + (py - 5.5) + "L" + (px + 2.6) + "," + py + "Z";
        })
        .attr("fill", "#111");

    // stations: error ellipses, arrows and names
    mapNames.forEach(function (name, i) {
        var px = x(mapLon[i]), py = y(mapLat[i]);
        var tipX = px + mmToPx(obsE[i]), tipY = py - mmToPx(obsN[i]);
        if (ellRx[i] > 0) {
            plot.append("ellipse")
                .attr("cx", tipX).attr("cy", tipY)
                .attr("rx", mmToPx(ellRx[i])).attr("ry", mmToPx(ellRy[i]))
                .attr("fill", "none").attr("stroke", "#8a8a8a").attr("stroke-width", 0.8);
        }
        if (showRed) drawArrow(plot, px, py, px + mmToPx(modE[i]), py - mmToPx(modN[i]), "#ff0000");
        drawArrow(plot, px, py, tipX, tipY, "#000");
        plot.append("text").attr("x", px).attr("y", py).style("font-size", "15px").text(name);
    });

    // scale bar
    var barY = y(scaleBarLat);
    plot.append("path")
        .attr("d", d3.line()([[x(scaleBarLon[0]), barY + 8], [x(scaleBarLon[0]), barY], [x(scaleBarLon[1]), barY], [x(scaleBarLon[1]), barY + 8]]))
        .attr("fill", "none").attr("stroke", "#555").attr("stroke-width", 0.9);
    plot.append("text")
        .attr("x", (x(scaleBarLon[0]) + x(scaleBarLon[1])) / 2).attr("y", barY + 25)
        .attr("text-anchor", "middle").style("font-size", "17.4px").text("50 km");

    // 10 mm reference vector
    var refY = top + 94.7;
    drawArrow(plot, 519.3, refY, 519.3 - mmToPx(10), refY, "#000");
    plot.append("text").attr("x", 501).attr("y", refY - 10.5)
        .attr("text-anchor", "middle").style("font-size", "15px").text("10mm");

    g.append("rect")
        .attr("x", x(84)).attr("y", top).attr("width", x(86.5) - x(84)).attr("height", bottom - top)
        .attr("fill", "none").attr("stroke", "#000").attr("stroke-width", 2);

    svg.append("text").attr("x", 295).attr("y", titleY)
        .attr("text-anchor", "middle").style("font-size", "20.5px").text(title);
}

function drawSeries(clipId, left, title, dots, gray, planar, frf, splay, showY) {
    var x = d3.scaleLinear().domain([0, 0.4]).range([left, left + 211.3]);
    var y = d3.scaleLinear().domain([0, 480]).range([926.7, 39.3]);
    var g = svg.append("g");

    defs.append("clipPath").attr("id", clipId).append("rect")
        .attr("x", x(0)).attr("y", y(480)).attr("width", x(0.4) - x(0)).attr("height", y(0) - y(480));

    g.selectAll(".grid")
        .data(gridMm)
        .enter()
        .append("line")
        .attr("class", "grid")
        .attr("x1", x(0)).attr("x2", x(0.4))
        .attr("y1", function (d) { return y(d); })
        .attr("y2", function (d) { return y(d); })
        .attr("stroke", "#c8c8c8").attr("stroke-width", 1);

    var plot = g.append("g").attr("clip-path", "url(#" + clipId + ")");

    stations.forEach(function (name, i) {
        // daily solutions
        plot.append("g").selectAll("circle")
            .data(pairUp(gray[i]))
            .enter()
            .append("circle")
            .attr("cx", function (d) { return x(d[0]); })
            .attr("cy", function (d) { return y(d[1]); })
            .attr("r", 4.5)
            .attr("fill", "#c0c0c0");

        // averaged epochs with error bars
        var bars = plot.append("g");
        dots[i].forEach(function (d) {
            var px = x(epochs[d[0]]);
            bars.append("line")
                .attr("x1", px).attr("x2", px)
                .attr("y1", y(d[1] - d[2])).attr("y2", y(d[1] + d[2]))
                .attr("stroke", "#777").attr("stroke-width", 0.7);
            [d[1] - d[2], d[1] + d[2]].forEach(function (v) {
                bars.append("line")
                    .attr("x1", px - 5.5).attr("x2", px + 5.5)
                    .attr("y1", y(v)).attr("y2", y(v))
                    .attr("stroke", "#000").attr("stroke-width", 1);
            });
            bars.append("circle").attr("cx", px).attr("cy", y(d[1])).attr("r", 4.5).attr("fill", "#000");
        });

        // model curves
        [planar, frf, splay].forEach(function (series, s) {
            plot.append("path")
                .attr("d", d3.line()
                    .x(function (d) { return x(d[0]); })
                    .y(function (d) { return y(d[1]); })(pairUp(series[i])))
                .attr("fill", "none")
                .attr("stroke", seriesColors[s])
                .attr("stroke-width", 3)
                .attr("stroke-dasharray", seriesDash[s]);
        });

        g.append("text")
            .attr("x", left + 27).attr("y", y(labelMm[i]))
            .style("font-size", "18.2px")
            .text(name);
    });

    g.append("g").attr("transform", "translate(0," + y(0) + ")")
        .call(d3.axisBottom(x).tickValues([0, 0.1, 0.2, 0.3, 0.4]).tickSize(3).tickPadding(5).tickFormat(d3.format(".1f")))
        .call(styleAxis);
    g.append("g").attr("transform", "translate(0," + y(480) + ")")
        .call(d3.axisTop(x).tickValues([0, 0.1, 0.2, 0.3, 0.4]).tickSize(3).tickFormat(""))
        .call(styleAxis);
    g.append("g").attr("transform", "translate(" + x(0) + ",0)")
        .call(d3.axisLeft(y).tickValues(d3.range(0, 451, 50)).tickSize(4).tickFormat(""))
        .call(styleAxis);
    g.append("g").attr("transform", "translate(" + x(0.4) + ",0)")
        .call(d3.axisRight(y).tickValues(d3.range(0, 451, 50)).tickSize(4).tickFormat(showY ? d3.format("d") : ""))
        .call(styleAxis)
        .call(function (a) {
            // y labels are right aligned in their own column
            a.selectAll("text").attr("text-anchor", "end").attr("x", 37.7);
        });

    g.append("rect")
        .attr("x", x(0)).attr("y", y(480)).attr("width", x(0.4) - x(0)).attr("height", y(0) - y(480))
        .attr("fill", "none").attr("stroke", "#000").attr("stroke-width", 2);

    svg.append("text").attr("x", (x(0) + x(0.4)) / 2).attr("y", 33)
        .attr("text-anchor", "middle").style("font-size", "20.8px").text(title);
    svg.append("text").attr("x", (x(0) + x(0.4)) / 2 - 0.5).attr("y", 966.7)
        .attr("text-anchor", "middle").style("font-size", "18px").text("Years since EQ");
}

drawMap("clip-obs", 43, 461.7, 2, false, "Observed", 25);
drawMap("clip-mod", 507.7, 926.7, 3, true, "Model", 490);
drawSeries("clip-north", 557, "North", northDots, northGray, northPlanar, northFrf, northSplay, false);
drawSeries("clip-east", 802, "East", eastDots, eastGray, eastPlanar, eastFrf, eastSplay, true);

svg.append("text")
    .attr("transform", "translate(1071.5,483) rotate(-90)")
    .attr("text-anchor", "middle")
    .style("font-size", "17.2px")
    .text("Postseismic Displacement [mm]");

// colour bar
var cbScale = d3.scaleLinear().domain([-50, 50]).range([126, 464]);
var grad = defs.append("linearGradient").attr("id", "jet");
[-50, -12.5, 12.5, 50].forEach(function (v) {
    grad.append("stop").attr("offset", (v + 50) + "%").attr("stop-color", color(v));
});
svg.append("rect")
    .attr("x", cbScale(-50)).attr("y", 969).attr("width", cbScale(50) - cbScale(-50)).attr("height", 20.3)
    .attr("fill", "url(#jet)").attr("stroke", "#000").attr("stroke-width", 2);
svg.append("g").attr("transform", "translate(0,989.3)")
    .call(d3.axisBottom(cbScale).tickValues(colorTicks).tickSize(3).tickPadding(5).tickFormat(String))
    .call(styleAxis);
svg.append("text").attr("x", 295).attr("y", 1027)
    .attr("text-anchor", "middle").style("font-size", "17.8px").text("Postseismic LOS Def. [mm]");

// legend
svg.append("rect")
    .attr("x", 557).attr("y", 979.3).attr("width", 464.7).attr("height", 40.7)
    .attr("fill", "none").attr("stroke", "#000").attr("stroke-width", 2);
var legendX = [[571.7, 615, 625], [726.7, 768, 779.5], [881.7, 922, 935]];
legendNames.forEach(function (name, i) {
    svg.append("line")
        .attr("x1", legendX[i][0]).attr("x2", legendX[i][1])
        .attr("y1", 996.7).attr("y2", 996.7)
        .attr("stroke", seriesColors[i])
        .attr("stroke-width", 3)
        .attr("stroke-dasharray", seriesDash[i]);
    svg.append("text")
        .attr("x", legendX[i][2]).attr("y", 1002.7)
        .style("font-size", "18px")
        .text(name);
});
</script>
</body>
</html>
